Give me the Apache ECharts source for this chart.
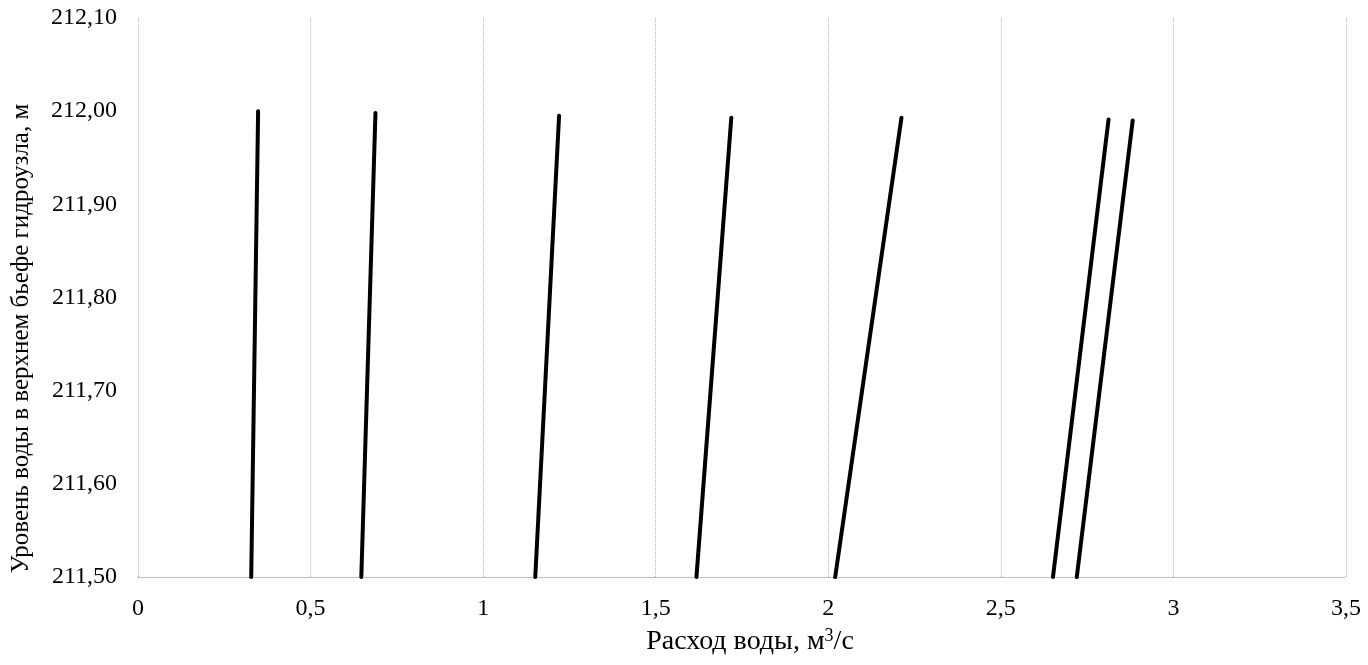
<!DOCTYPE html>
<html>
<head>
<meta charset="utf-8">
<script src="https://cdn.jsdelivr.net/npm/echarts@6/dist/echarts.min.js"></script>
<style>
	html, body { margin: 0; padding: 0; background: #fff; }
	#chart { width: 1368px; height: 665px; }
</style>
</head>
<body>
<div id="chart"></div>
<script>
	// расход воды (м3/с) внизу и вверху каждой линии
	var qBottom = [0.328, 0.647, 1.151, 1.618, 2.020, 2.651, 2.720];
	var qTop = [0.348, 0.688, 1.220, 1.719, 2.212, 2.812, 2.882];
	// уровень воды (м) внизу и вверху
	var zBottom = [211.50, 211.50, 211.50, 211.50, 211.50, 211.50, 211.50];
	var zTop = [212.00, 211.998, 211.995, 211.993, 211.993, 211.991, 211.990];

	var xTicks = ['0', '0,5', '1', '1,5', '2', '2,5', '3', '3,5'];
	var yTicks = ['211,50', '211,60', '211,70', '211,80', '211,90', '212,00', '212,10'];

	var font = '"Liberation Serif", "DejaVu Serif", serif';

	var series = [];
	for (var i = 0; i < qBottom.length; i++) {
		series.push({
			type: 'line',
			symbol: 'none',
			silent: true,
			lineStyle: { color: '#000', width: 4, cap: 'round' },
			data: [[qBottom[i], zBottom[i]], [qTop[i], zTop[i]]]
		});
	}

	var myChart = echarts.init(document.getElementById('chart'));
	myChart.setOption({
		animation: false,
		backgroundColor: '#fff',
		grid: { left: 138, right: 22, top: 18, bottom: 88 },
		xAxis: {
			type: 'value',
			min: 0,
			max: 3.5,
			interval: 0.5,
			name: 'Расход воды, м{sup|3}/с',
			nameLocation: 'middle',
			nameGap: 50,
			nameTextStyle: {
				color: '#000',
				fontFamily: font,
				fontSize: 28,
				padding: [0, 0, 0, 16],
				rich: {
					sup: { fontFamily: font, fontSize: 18, color: '#000', padding: [0, 0, 12, 0] }
				}
			},
			axisLine: { show: true, lineStyle: { color: '#b0b0b0', type: 'dotted', width: 1 } },
			axisTick: { show: false },
			axisLabel: {
				color: '#000',
				fontFamily: font,
				fontSize: 24,
				margin: 20,
				formatter: function (v) { return xTicks[Math.round(v / 0.5)]; }
			},
			splitLine: { show: true, lineStyle: { color: '#b0b0b0', type: 'dotted', width: 1 } }
		},
		yAxis: {
			type: 'value',
			min: 211.5,
			max: 212.1,
			interval: 0.1,
			name: 'Уровень воды в верхнем бьефе гидроузла, м',
			nameLocation: 'middle',
			nameGap: 104,
			nameTextStyle: { color: '#000', fontFamily: font, fontSize: 25, padding: [0, 82, 0, 0] },
			axisLine: { show: false },
			axisTick: { show: false },
			axisLabel: {
				color: '#000',
				fontFamily: font,
				fontSize: 24,
				margin: 21,
				formatter: function (v) { return yTicks[Math.round((v - 211.5) / 0.1)]; }
			},
			splitLine: { show: false }
		},
		series: series
	});
</script>
</body>
</html>
